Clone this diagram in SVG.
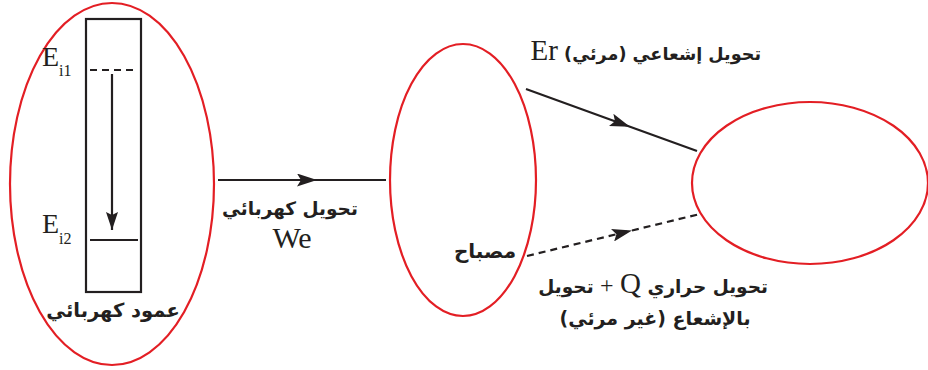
<svg xmlns="http://www.w3.org/2000/svg" width="928" height="370" viewBox="0 0 928 370">
<style>
.ell{fill:none;stroke:#e31e24;stroke-width:2.2}
.ln{fill:none;stroke:#231f20;stroke-width:2.2}
.dash{stroke-dasharray:7,5}
.lat{font-family:"Liberation Serif",serif;fill:#231f20}
.ar{font-family:"DejaVu Sans",sans-serif;font-weight:bold;fill:#231f20;direction:rtl;unicode-bidi:embed}
</style>
<defs>
<marker id="arr" viewBox="0 0 20 13" refX="20" refY="6.5" markerWidth="20" markerHeight="13" markerUnits="userSpaceOnUse" orient="auto">
<path d="M0,0 L20,6.5 L0,13 L4,6.5 z" fill="#231f20"/>
</marker>
<marker id="arrv" viewBox="0 0 18 12" refX="18" refY="6" markerWidth="18" markerHeight="12" markerUnits="userSpaceOnUse" orient="auto">
<path d="M0,0 L18,6 L0,12 L3,6 z" fill="#231f20"/>
</marker>
</defs>
<rect width="928" height="370" fill="#fff"/>
<g id="pile">
<ellipse class="ell" cx="112" cy="184" rx="102" ry="181"/>
<rect class="ln" x="86" y="19" width="55" height="273"/>
<line class="ln dash" x1="90" y1="70" x2="138" y2="70"/>
<line class="ln" x1="90" y1="240" x2="138" y2="240"/>
<line class="ln" x1="112" y1="74" x2="112" y2="230" marker-end="url(#arrv)"/>
<text class="lat" x="42" y="66" font-size="28">E<tspan font-size="16" dy="10">i1</tspan></text>
<text class="lat" x="42" y="233" font-size="28">E<tspan font-size="16" dy="11">i2</tspan></text>
<text class="ar" x="113" y="317" font-size="19.5" text-anchor="middle">عمود كهربائي</text>
</g>
<g id="lamp">
<ellipse class="ell" cx="463" cy="180" rx="73" ry="136"/>
<text class="ar" x="485" y="258" font-size="20" text-anchor="middle">مصباح</text>
</g>
<g id="env">
<ellipse class="ell" cx="810" cy="183" rx="118" ry="81"/>
</g>
<g id="connectors">
<path class="ln" d="M218,180 L317,180 L386,180" marker-mid="url(#arr)"/>
<path class="ln" d="M526,89 L630,126.7 L697,151" marker-mid="url(#arr)"/>
<path class="ln dash" d="M527,256 L632,230.5 L700,214" marker-mid="url(#arr)"/>
</g>
<g id="labels">
<text class="ar" x="290" y="215" font-size="18.5" text-anchor="middle">تحويل كهربائي</text>
<text class="lat" x="292" y="248" font-size="30" text-anchor="middle">We</text>
<text class="ar" x="761" y="60" font-size="17.6" text-anchor="start">تحويل إشعاعي (مرئي) <tspan class="lat" font-weight="normal" font-size="29">Er</tspan></text>
<text class="ar" x="768" y="293" font-size="18.5" text-anchor="start">تحويل حراري <tspan class="lat" font-weight="normal" font-size="29">Q</tspan> <tspan class="lat" font-weight="normal" font-size="24">+</tspan> تحويل</text>
<text class="ar" x="655" y="325" font-size="19" text-anchor="middle">بالإشعاع (غير مرئي)</text>
</g>
</svg>
